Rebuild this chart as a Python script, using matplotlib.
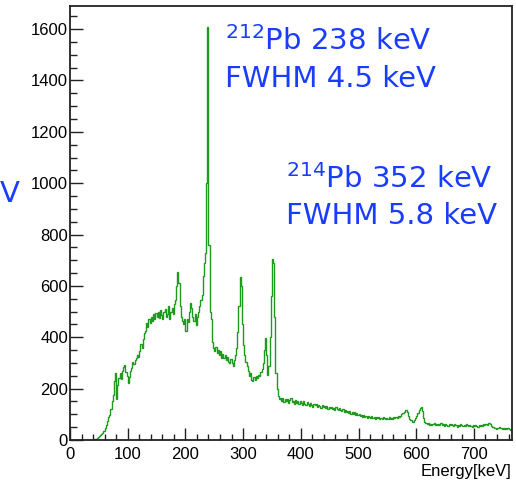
import numpy as np
import matplotlib as mpl
import matplotlib.pyplot as plt
from matplotlib.ticker import MultipleLocator

# 2 keV bins starting at 0 keV, counts
BIN_W = 2
counts = [
    0, 0, 0, 0, 0, 0, 0, 0, 0, 0,
    0, 0, 0, 0, 0, 0, 0, 0, 0, 0,
    0, 2, 5, 8, 12, 15, 20, 24, 29, 35,
    48, 60, 75, 90, 98, 120, 150, 175, 230, 262,
    160, 215, 240, 262, 238, 270, 285, 292, 265, 250,
    222, 245, 268, 280, 302, 295, 310, 318, 330, 322,
    345, 372, 360, 395, 415, 425, 455, 440, 470, 455,
    478, 462, 490, 470, 495, 480, 500, 475, 505, 488,
    470, 498, 512, 478, 490, 520, 470, 500, 515, 490,
    530, 545, 600, 655, 610, 520, 480, 465, 450, 470,
    425, 470, 460, 500, 532, 515, 478, 462, 490, 447,
    478, 500, 520, 545, 565, 640, 690, 730, 1000, 1607,
    760, 500, 470, 380, 360, 345, 362, 340, 350, 332,
    345, 320, 335, 318, 330, 310, 325, 305, 298, 315,
    300, 290, 310, 330, 360, 420, 520, 636, 600, 450,
    370, 330, 305, 290, 270, 250, 262, 235, 228, 245,
    232, 248, 240, 255, 248, 265, 275, 300, 350, 397,
    330, 253, 290, 400, 560, 703, 690, 480, 260, 200,
    170, 158, 165, 150, 162, 148, 158, 152, 160, 145,
    155, 162, 148, 150, 142, 155, 146, 152, 140, 150,
    145, 138, 150, 142, 136, 148, 140, 132, 145, 138,
    130, 142, 135, 140, 128, 138, 132, 125, 136, 128,
    134, 126, 132, 120, 130, 124, 128, 120, 126, 118,
    130, 122, 115, 124, 118, 112, 120, 110, 116, 108,
    114, 105, 112, 100, 108, 102, 110, 98, 104, 96,
    102, 94, 98, 90, 96, 88, 94, 86, 92, 88,
    84, 92, 86, 90, 82, 88, 84, 90, 80, 86,
    82, 88, 84, 80, 86, 82, 88, 80, 85, 82,
    88, 84, 90, 86, 92, 88, 95, 100, 105, 110,
    115, 117, 108, 95, 82, 76, 72, 71, 78, 85,
    95, 105, 115, 125, 130, 112, 85, 70, 65, 62,
    66, 60, 64, 58, 62, 66, 60, 63, 58, 64,
    60, 66, 58, 62, 56, 64, 60, 55, 62, 58,
    64, 60, 56, 62, 58, 52, 60, 56, 62, 58,
    54, 60, 56, 62, 58, 54, 60, 56, 52, 58,
    54, 60, 56, 52, 58, 54, 60, 56, 62, 58,
    64, 60, 66, 68, 62, 55, 50, 46, 48, 44,
    48, 45, 50, 46, 42, 48, 44, 46, 42, 47,
    43, 40, 44, 42,
]

x_label = "Energy[keV]"
note_212 = ["$^{212}$Pb 238 keV", "FWHM 4.5 keV"]
note_214 = ["$^{214}$Pb 352 keV", "FWHM 5.8 keV"]

mpl.rcParams.update({
    "font.family": ["Liberation Sans", "DejaVu Sans"],
    "mathtext.fontset": "dejavusans",
    "mathtext.default": "regular",
})

GREEN = "#1e9a1e"
BLUE = "#1a3cff"

fig = plt.figure(figsize=(5.16, 4.83), dpi=100)
ax = fig.add_axes([0.1357, 0.089, 0.8565, 0.8986])

edges = np.arange(len(counts) + 1) * BIN_W
ax.stairs(counts, edges, color=GREEN, lw=1.0)

ax.set_xlim(0, 766)
ax.set_ylim(0, 1690)
ax.xaxis.set_major_locator(MultipleLocator(100))
ax.xaxis.set_minor_locator(MultipleLocator(20))
ax.yaxis.set_major_locator(MultipleLocator(200))
ax.yaxis.set_minor_locator(MultipleLocator(50))
ax.tick_params(which="both", direction="in", top=False, right=False,
               labelsize=12, width=1.0, color="#222222")
ax.tick_params(axis="x", which="major", length=9, pad=5)
ax.tick_params(axis="x", which="minor", length=4.5)
ax.tick_params(axis="y", which="major", length=9.5, pad=1.5)
ax.tick_params(axis="y", which="minor", length=5)
for s in ax.spines.values():
    s.set_linewidth(1.3)
    s.set_color("#222222")

fig.text(0.992, 0.015, x_label, ha="right", va="baseline", fontsize=12)

tkw = dict(color=BLUE, fontsize=21, family=["DejaVu Sans"], va="baseline")
fig.text(225 / 516, 1 - 50 / 483, note_212[0], **tkw)
fig.text(225 / 516, 1 - 87 / 483, note_212[1], **tkw)
fig.text(286 / 516, 1 - 188 / 483, note_214[0], **tkw)
fig.text(286 / 516, 1 - 224 / 483, note_214[1], **tkw)
fig.text(0.0, 1 - 202 / 483, "V", **tkw)

fig.savefig("out.png", dpi=100)
